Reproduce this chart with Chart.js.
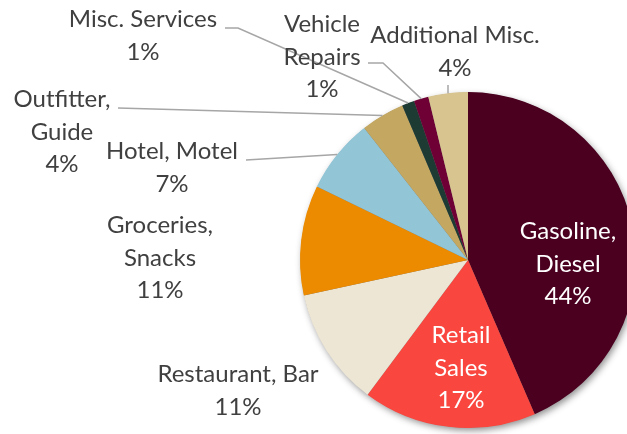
<!DOCTYPE html>
<html>
<head>
<meta charset="utf-8">
<script src="https://cdn.jsdelivr.net/npm/chart.js"></script>
<style>
html, body { margin:0; padding:0; background:#fff; overflow:hidden; }
#wrap { width:627px; height:434px; overflow:hidden; position:relative; }
#box { position:absolute; left:0; top:0; width:660px; height:434px; }
</style>
</head>
<body>
<div id="wrap"><div id="box"><canvas id="spending"></canvas></div></div>
<script>
// spending shares, clockwise from 12 o'clock
var categories = ["Gasoline, Diesel", "Retail Sales", "Restaurant, Bar", "Groceries, Snacks", "Hotel, Motel",
                  "Outfitter, Guide", "Misc. Services", "Vehicle Repairs", "Additional Misc."];
var shares = [43.5, 16.7, 11.4, 10.6, 7.2, 4.2, 1.2, 1.4, 3.8];

// how each category name is broken onto lines in the label
var labelLines = [["Gasoline,", "Diesel"], ["Retail", "Sales"], ["Restaurant, Bar"], ["Groceries,", "Snacks"],
                  ["Hotel, Motel"], ["Outfitter,", "Guide"], ["Misc. Services"], ["Vehicle", "Repairs"], ["Additional Misc."]];

var sliceColors = ['#4b0020', '#f9463e', '#ede6d5', '#ec8b00', '#92c6d7', '#c4a862', '#1e3b33', '#6e0035', '#d8c48f'];

// label placement (centre x, first baseline) and leader line start points
var labelSpots = [
  {x: 568, y: 239, color: '#ffffff'},
  {x: 461, y: 343, color: '#ffffff'},
  {x: 238, y: 382},
  {x: 160, y: 233},
  {x: 172, y: 159, leader: [[246, 160]]},
  {x: 62,  y: 107, leader: [[118, 108]]},
  {x: 143, y: 27,  leader: [[225, 28], [238, 28]]},
  {x: 322, y: 32,  leader: [[368, 63], [383, 63]]},
  {x: 455, y: 43,  leader: [[448, 85]]}
];
var lineGap = 32.7;

var pieShadow = {
  id: 'pieShadow',
  beforeDatasetsDraw: function(chart) {
    var arc = chart.getDatasetMeta(0).data[0];
    var ctx = chart.ctx;
    ctx.save();
    ctx.shadowColor = 'rgba(0,0,0,0.45)';
    ctx.shadowBlur = 7;
    ctx.shadowOffsetX = 2;
    ctx.shadowOffsetY = 3;
    ctx.fillStyle = '#777';
    ctx.beginPath();
    ctx.arc(arc.x, arc.y, arc.outerRadius - 0.5, 0, Math.PI * 2);
    ctx.fill();
    ctx.restore();
  }
};

var sliceLabels = {
  id: 'sliceLabels',
  afterDatasetsDraw: function(chart) {
    var ctx = chart.ctx;
    var arcs = chart.getDatasetMeta(0).data;
    ctx.save();
    // leader lines
    ctx.strokeStyle = '#a6a6a6';
    ctx.lineWidth = 1.5;
    labelSpots.forEach(function(s, i) {
      if (!s.leader) return;
      var a = arcs[i];
      var mid = (a.startAngle + a.endAngle) / 2;
      ctx.beginPath();
      ctx.moveTo(s.leader[0][0], s.leader[0][1]);
      for (var k = 1; k < s.leader.length; k++) ctx.lineTo(s.leader[k][0], s.leader[k][1]);
      ctx.lineTo(a.x + Math.cos(mid) * a.outerRadius, a.y + Math.sin(mid) * a.outerRadius);
      ctx.stroke();
    });
    // texts
    ctx.font = '24px Lato';
    ctx.textAlign = 'center';
    ctx.textBaseline = 'alphabetic';
    labelSpots.forEach(function(s, i) {
      var lines = labelLines[i].concat([Math.round(shares[i]) + '%']);
      ctx.fillStyle = s.color || '#404040';
      lines.forEach(function(t, k) {
        ctx.fillText(t, s.x, s.y + k * lineGap);
      });
    });
    ctx.restore();
  }
};

window.onload = function() {
  var ctx = document.getElementById('spending').getContext('2d');
  var chart = new Chart(ctx, {
    type: 'pie',
    data: {
      labels: categories,
      datasets: [{
        data: shares,
        backgroundColor: sliceColors,
        borderWidth: 0
      }]
    },
    options: {
      responsive: true,
      maintainAspectRatio: false,
      animation: false,
      layout: { padding: { left: 300, right: 24, top: 92, bottom: 6 } },
      plugins: {
        legend: { display: false },
        tooltip: { enabled: false }
      }
    },
    plugins: [pieShadow, sliceLabels]
  });
};
</script>
</body>
</html>
